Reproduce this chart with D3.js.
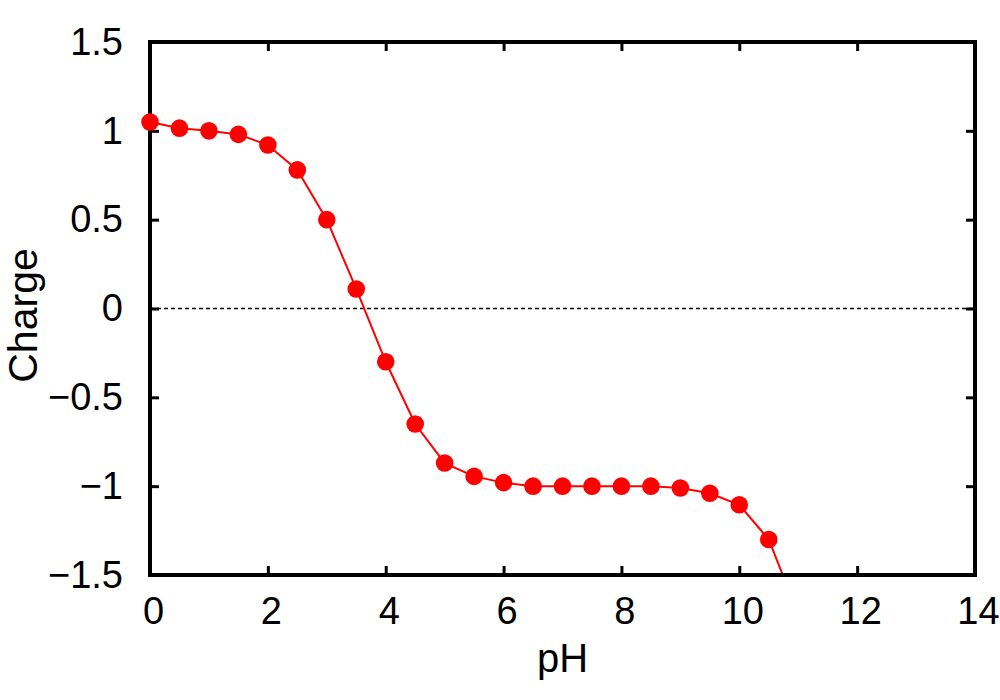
<!DOCTYPE html>
<html>
<head>
<meta charset="utf-8">
<script src="https://cdn.jsdelivr.net/npm/d3@7"></script>
<style>
  body { margin: 0; background: #fff; }
  svg { display: block; font-family: "Liberation Sans", Arial, Helvetica, sans-serif; }
</style>
</head>
<body>
<svg id="chart" width="1000" height="700"></svg>
<script>
// ---- data ----
const pH = [0, 0.5, 1, 1.5, 2, 2.5, 3, 3.5, 4, 4.5, 5, 5.5, 6, 6.5, 7, 7.5, 8, 8.5, 9, 9.5, 10, 10.5, 11];
const charge = [1.05, 1.015, 1.0, 0.98, 0.92, 0.78, 0.50, 0.11, -0.30, -0.65, -0.87, -0.945, -0.98, -1.0, -1.0, -1.0, -1.0, -1.0, -1.01, -1.04, -1.105, -1.30, -1.72];
const xTicks = [0, 2, 4, 6, 8, 10, 12, 14];
const yTicks = [-1.5, -1, -0.5, 0, 0.5, 1, 1.5];
const xLabel = "pH";
const yLabel = "Charge";

const points = pH.map((p, i) => ({ x: p, y: charge[i] }));

const svg = d3.select("#chart");
const W = 1000, H = 700;
const m = { left: 150, right: 25, top: 42, bottom: 125 };
const pw = W - m.left - m.right, ph = H - m.top - m.bottom;

const x = d3.scaleLinear().domain([0, 14]).range([m.left, m.left + pw]);
const y = d3.scaleLinear().domain([-1.5, 1.5]).range([m.top + ph, m.top]);

const fmt = d3.format("~g");

svg.append("defs").append("clipPath").attr("id", "plotclip")
  .append("rect").attr("x", m.left).attr("y", m.top).attr("width", pw).attr("height", ph);

// zero dashed line
svg.append("line")
  .attr("x1", x(0)).attr("x2", x(14)).attr("y1", y(0)).attr("y2", y(0))
  .attr("stroke", "#000").attr("stroke-width", 1.3).attr("stroke-dasharray", "4,3");

// data line
const line = d3.line().x(d => x(d.x)).y(d => y(d.y));
svg.append("path").datum(points)
  .attr("clip-path", "url(#plotclip)")
  .attr("d", line).attr("fill", "none").attr("stroke", "#ff0000").attr("stroke-width", 2);

// axes (inward ticks, mirrored)
const tickLen = 9;
const gB = svg.append("g").attr("transform", `translate(0,${m.top + ph})`)
  .call(d3.axisBottom(x).tickValues(xTicks).tickFormat(fmt).tickSizeInner(-tickLen).tickSizeOuter(0).tickPadding(22));
const gT = svg.append("g").attr("transform", `translate(0,${m.top})`)
  .call(d3.axisTop(x).tickValues(xTicks).tickFormat("").tickSizeInner(-tickLen).tickSizeOuter(0));
const gL = svg.append("g").attr("transform", `translate(${m.left},0)`)
  .call(d3.axisLeft(y).tickValues(yTicks).tickFormat(fmt).tickSizeInner(-tickLen).tickSizeOuter(0).tickPadding(27));
const gR = svg.append("g").attr("transform", `translate(${m.left + pw},0)`)
  .call(d3.axisRight(y).tickValues(yTicks).tickFormat("").tickSizeInner(-tickLen).tickSizeOuter(0));

[gB, gT, gL, gR].forEach(g => {
  g.select(".domain").remove();
  g.selectAll(".tick line").attr("stroke", "#000").attr("stroke-width", 3);
  g.selectAll(".tick text").attr("fill", "#000").attr("font-size", 38)
    .attr("font-family", "'Liberation Sans', Arial, sans-serif");
});
gB.selectAll(".tick text").attr("dy", "0.71em").attr("dx", 3);

// frame
svg.append("rect").attr("x", m.left).attr("y", m.top).attr("width", pw).attr("height", ph)
  .attr("fill", "none").attr("stroke", "#000").attr("stroke-width", 4);

// markers
svg.append("g").selectAll("circle")
  .data(points.filter(d => d.y >= -1.5 && d.y <= 1.5))
  .join("circle")
  .attr("cx", d => x(d.x)).attr("cy", d => y(d.y)).attr("r", 8.8)
  .attr("fill", "#ff0000");

// axis labels
svg.append("text").attr("x", m.left + pw / 2).attr("y", 672)
  .attr("text-anchor", "middle").attr("font-size", 40).attr("fill", "#000").text(xLabel);
svg.append("text").attr("transform", `translate(37,${m.top + ph / 2 + 7}) rotate(-90)`)
  .attr("text-anchor", "middle").attr("font-size", 41).attr("fill", "#000").text(yLabel);
</script>
</body>
</html>
